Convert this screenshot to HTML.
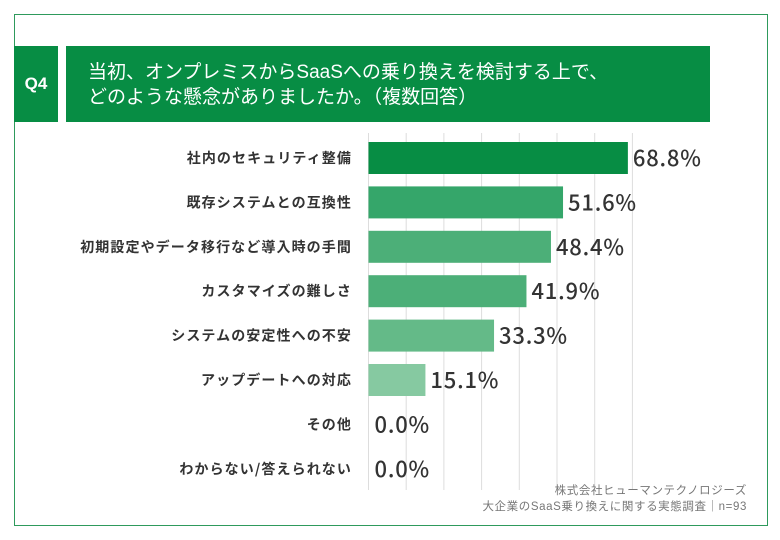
<!DOCTYPE html>
<html><head><meta charset="utf-8"><style>
body{margin:0;width:780px;height:540px;background:#fff;overflow:hidden;font-family:"Liberation Sans","Noto Sans CJK JP",sans-serif;}
#frame{position:absolute;left:14px;top:14px;width:754px;height:512px;border:1.5px solid #2e9a5c;box-sizing:border-box;}
#q4{position:absolute;left:14px;top:46px;width:44px;height:76px;background:#078d44;color:#fff;font-weight:bold;font-size:17px;display:flex;align-items:center;justify-content:center;}
#title{position:absolute;left:66px;top:46px;width:644px;height:76px;background:#078d44;color:#fff;font-size:19px;line-height:25px;padding:14px 0 0 22px;box-sizing:border-box;}
.foot{position:absolute;right:33px;font-size:11.5px;letter-spacing:0.6px;color:#777;text-align:right;}
</style></head><body>
<div id="frame"></div>
<div id="q4">Q4</div>
<div id="title">当初、オンプレミスからSaaSへの乗り換えを検討する上で、<br>どのような懸念がありましたか。（複数回答）</div>
<svg id="chart" width="780" height="540" style="position:absolute;left:0;top:0"></svg>
<div class="foot" style="top:482px">株式会社ヒューマンテクノロジーズ</div>
<div class="foot" style="top:498px">大企業のSaaS乗り換えに関する実態調査｜n=93</div>
<script>
const categories=["社内のセキュリティ整備","既存システムとの互換性","初期設定やデータ移行など導入時の手間","カスタマイズの難しさ","システムの安定性への不安","アップデートへの対応","その他","わからない/答えられない"];
const values=[68.8,51.6,48.4,41.9,33.3,15.1,0.0,0.0];
const barColors=["#078d44","#35a66a","#4caf78","#4caf78","#64ba88","#86c9a1","#9fd4b3","#9fd4b3"];
const gridTicks=[0,10,20,30,40,50,60,70];
const NS="http://www.w3.org/2000/svg";
const svg=document.getElementById("chart");
const x0=368.5, pxPer=3.77;
const xs=v=>x0+v*pxPer;
const y0=158, pitch=44.4, bh=32;
const ys=i=>y0+i*pitch;
function mk(t,a){const e=document.createElementNS(NS,t);for(const k in a)e.setAttribute(k,a[k]);svg.appendChild(e);return e;}
gridTicks.forEach(t=>{
  const l=mk("line",{x1:xs(t),x2:xs(t),y1:133,y2:490,stroke:"#ddd","stroke-width":1});
  
  
});
categories.forEach((c,i)=>{
  const cy=ys(i);
  const lab=mk("text",{x:352,y:cy+5,"text-anchor":"end","font-size":"14","font-weight":"600","letter-spacing":"1.1",fill:"#333","font-family":"'Noto Sans CJK JP',sans-serif"});
  lab.textContent=c;
  
  
  const w=xs(values[i])-x0;
  if(w>0){
    const r=mk("rect",{x:x0,y:cy-bh/2,width:w,height:bh,fill:barColors[i]});
    
    
  }
  const v=mk("text",{x:xs(values[i])+(w>0?5:6),y:cy+8,"font-size":"22","font-weight":"500","letter-spacing":"0.8",fill:"#333","font-family":"'Noto Sans CJK JP',sans-serif"});
  v.textContent=values[i].toFixed(1)+"%";
  
  
});
</script>
</body></html>
